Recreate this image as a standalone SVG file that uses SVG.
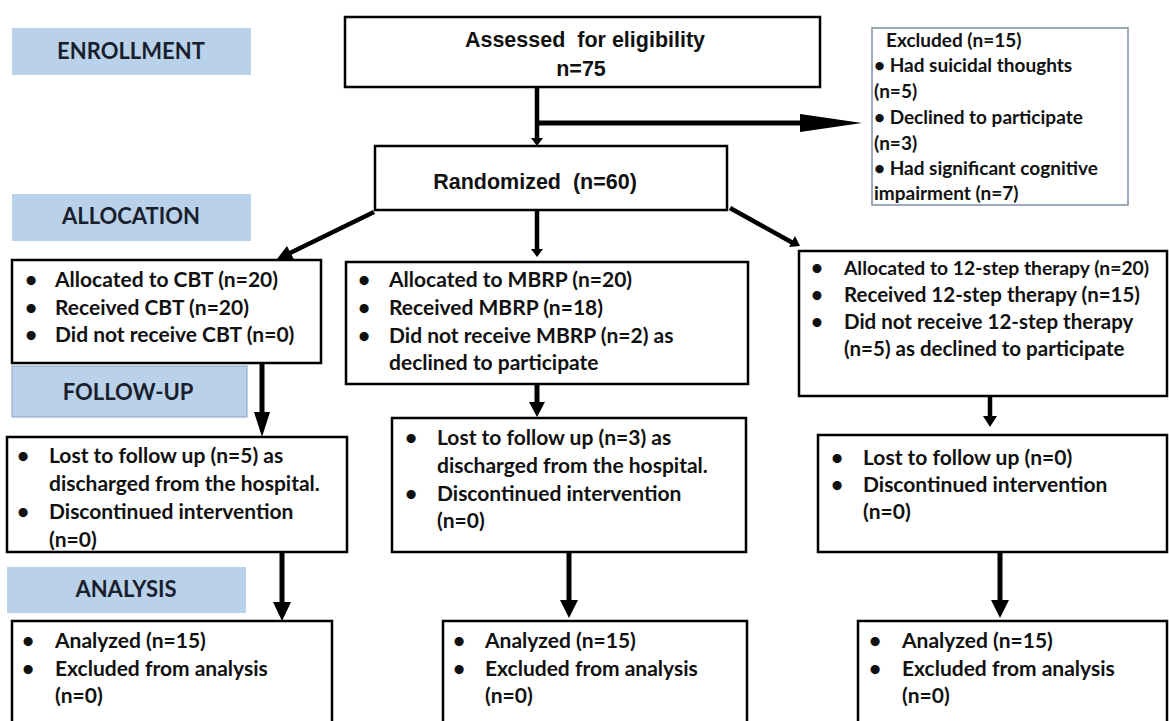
<svg xmlns="http://www.w3.org/2000/svg" width="1169" height="721" viewBox="0 0 1169 721">
<style>
.bg{fill:#ffffff}
.phase{fill:#b9d2ea}
.box{fill:#ffffff;stroke:#000;stroke-width:2.5}
.exbox{fill:#ffffff;stroke:#7d8ea8;stroke-width:1.5}
.ph{font-family:Lato,"Liberation Sans",sans-serif;font-weight:700;font-size:22px;fill:#1a1f2e;text-anchor:middle}
.ar{font-family:"Liberation Sans",Arial,sans-serif;font-weight:700;font-size:21.5px;fill:#111;text-anchor:middle}
.t{font-family:Lato,"Liberation Sans",sans-serif;font-weight:700;font-size:21px;fill:#111}
.s{font-size:20.5px}
.ex{font-family:Lato,"Liberation Sans",sans-serif;font-weight:700;font-size:19px;fill:#111}
.ln{stroke:#000;fill:none}
.hd{fill:#000}
</style>
<rect class="bg" x="0" y="0" width="1169" height="721"/>
<g id="phase-enrollment"><rect class="phase" x="12" y="28" width="239" height="47"/><text class="ph" x="131" y="59">ENROLLMENT</text></g>
<g id="phase-allocation"><rect class="phase" x="12" y="194" width="239" height="47"/><text class="ph" x="131" y="224">ALLOCATION</text></g>
<g id="phase-followup"><rect class="phase" x="12" y="366" width="235" height="51" stroke="#8aa3c0" stroke-width="1"/><text class="ph" x="128" y="400">FOLLOW-UP</text></g>
<g id="phase-analysis"><rect class="phase" x="7" y="567" width="239" height="46"/><text class="ph" x="126" y="597">ANALYSIS</text></g>

<g id="connectors">
<path class="ln" stroke-width="4.5" d="M537,87 V140"/>
<polygon class="hd" points="531,138 543,138 537,146"/>
<path class="ln" stroke-width="5" d="M537,123 H805"/>
<polygon class="hd" points="800,114 862,123 800,132"/>
<path class="ln" stroke-width="4.5" d="M537,210 V251"/>
<polygon class="hd" points="531,249 543,249 537,257"/>
<path class="ln" stroke-width="4.5" d="M374,212 L290,253"/>
<polygon class="hd" points="294,259.5 287,246 277,259"/>
<path class="ln" stroke-width="4.5" d="M730,208 L793,243"/>
<polygon class="hd" points="789,247 795,236 800,246"/>
<path class="ln" stroke-width="5" d="M262,363 V414"/>
<polygon class="hd" points="254,412 270,412 262,437"/>
<path class="ln" stroke-width="5" d="M537,384 V404"/>
<polygon class="hd" points="529,402 545,402 537,417"/>
<path class="ln" stroke-width="4.5" d="M990,396 V418"/>
<polygon class="hd" points="983,416 997,416 990,427"/>
<path class="ln" stroke-width="5" d="M282,552 V604"/>
<polygon class="hd" points="273,602 291,602 282,621"/>
<path class="ln" stroke-width="5" d="M569,552 V602"/>
<polygon class="hd" points="560,600 578,600 569,618"/>
<path class="ln" stroke-width="5" d="M1000,552 V602"/>
<polygon class="hd" points="991,600 1009,600 1000,618"/>
</g>

<g id="assessed"><rect class="box" x="345" y="17" width="475" height="70"/>
<text class="ar" x="585" y="47" xml:space="preserve">Assessed  for eligibility</text>
<text class="ar" x="581" y="76">n=75</text></g>

<g id="randomized"><rect class="box" x="375" y="146" width="352" height="64"/>
<text class="ar" x="535" y="189" xml:space="preserve">Randomized  (n=60)</text></g>

<g id="excluded"><rect class="exbox" x="872" y="28" width="256" height="177"/>
<text class="ex" x="886" y="47">Excluded (n=15)</text>
<text class="ex" x="874" y="72">• Had suicidal thoughts</text>
<text class="ex" x="874" y="98">(n=5)</text>
<text class="ex" x="874" y="124">• Declined to participate</text>
<text class="ex" x="874" y="150">(n=3)</text>
<text class="ex" x="874" y="175">• Had significant cognitive</text>
<text class="ex" x="874" y="200">impairment (n=7)</text></g>

<g id="cbt-alloc"><rect class="box" x="12" y="260" width="309" height="103"/>
<text class="t" x="25" y="287">•</text><text class="t" x="55" y="287">Allocated to CBT (n=20)</text>
<text class="t" x="25" y="315">•</text><text class="t" x="55" y="315">Received CBT (n=20)</text>
<text class="t" x="25" y="342">•</text><text class="t" x="55" y="342">Did not receive CBT (n=0)</text></g>

<g id="mbrp-alloc"><rect class="box" x="346" y="262" width="402" height="122"/>
<text class="t" x="358" y="287">•</text><text class="t" x="389" y="287">Allocated to MBRP (n=20)</text>
<text class="t" x="358" y="315">•</text><text class="t" x="389" y="315">Received MBRP (n=18)</text>
<text class="t" x="358" y="343">•</text><text class="t" x="389" y="343">Did not receive MBRP (n=2) as</text>
<text class="t" x="389" y="370">declined to participate</text></g>

<g id="step-alloc"><rect class="box" x="799" y="251" width="368" height="145"/>
<text class="t s" x="811" y="275">•</text><text class="t" x="844" y="275" style="font-size:19.3px">Allocated to 12-step therapy (n=20)</text>
<text class="t s" x="811" y="302">•</text><text class="t s" x="844" y="302">Received 12-step therapy (n=15)</text>
<text class="t s" x="811" y="329">•</text><text class="t s" x="844" y="329">Did not receive 12-step therapy</text>
<text class="t s" x="844" y="356">(n=5) as declined to participate</text></g>

<g id="cbt-follow"><rect class="box" x="7" y="437" width="340" height="115"/>
<text class="t" x="17" y="463">•</text><text class="t" x="49" y="463">Lost to follow up (n=5) as</text>
<text class="t" x="49" y="491">discharged from the hospital.</text>
<text class="t" x="17" y="519">•</text><text class="t" x="49" y="519">Discontinued intervention</text>
<text class="t" x="49" y="547">(n=0)</text></g>

<g id="mbrp-follow"><rect class="box" x="392" y="418" width="354" height="134"/>
<text class="t" x="405" y="445">•</text><text class="t" x="437" y="445">Lost to follow up (n=3) as</text>
<text class="t" x="437" y="473">discharged from the hospital.</text>
<text class="t" x="405" y="501">•</text><text class="t" x="437" y="501">Discontinued intervention</text>
<text class="t" x="437" y="528">(n=0)</text></g>

<g id="step-follow"><rect class="box" x="818" y="435" width="349" height="117"/>
<text class="t" x="831" y="465">•</text><text class="t" x="863" y="465">Lost to follow up (n=0)</text>
<text class="t" x="831" y="492">•</text><text class="t" x="863" y="492">Discontinued intervention</text>
<text class="t" x="863" y="519">(n=0)</text></g>

<g id="cbt-analysis"><rect class="box" x="12" y="621" width="320" height="106"/>
<text class="t" x="22" y="648">•</text><text class="t" x="55" y="648">Analyzed (n=15)</text>
<text class="t" x="22" y="676">•</text><text class="t" x="55" y="676">Excluded from analysis</text>
<text class="t" x="55" y="703">(n=0)</text></g>

<g id="mbrp-analysis"><rect class="box" x="443" y="621" width="304" height="106"/>
<text class="t" x="453" y="648">•</text><text class="t" x="485" y="648">Analyzed (n=15)</text>
<text class="t" x="453" y="676">•</text><text class="t" x="485" y="676">Excluded from analysis</text>
<text class="t" x="485" y="703">(n=0)</text></g>

<g id="step-analysis"><rect class="box" x="858" y="621" width="309" height="106"/>
<text class="t" x="869" y="648">•</text><text class="t" x="902" y="648">Analyzed (n=15)</text>
<text class="t" x="869" y="676">•</text><text class="t" x="902" y="676">Excluded from analysis</text>
<text class="t" x="902" y="703">(n=0)</text></g>
</svg>
